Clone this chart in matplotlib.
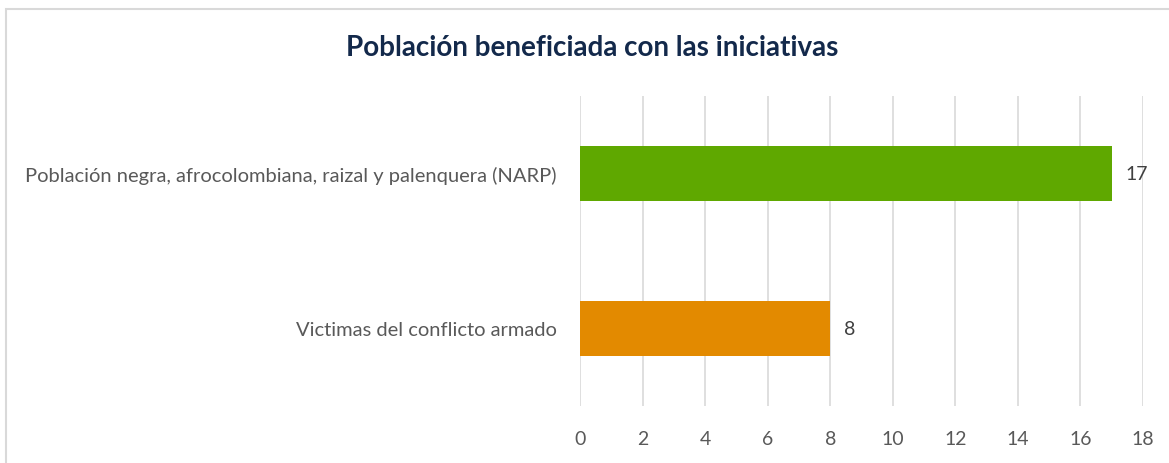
import matplotlib.pyplot as plt
from matplotlib.patches import Rectangle

categories = ["Victimas del conflicto armado",
              "Población negra, afrocolombiana, raizal y palenquera (NARP)"]
values = [8, 17]
bar_colors = ["#E38A00", "#5FA800"]
ticks = list(range(0, 20, 2))
title = "Población beneficiada con las iniciativas"

plt.rcParams["font.family"] = ["Lato", "DejaVu Sans"]

fig = plt.figure(figsize=(11.69, 4.64), dpi=100)
ax = fig.add_axes([580/1169, 1 - 407/464, (1143-580)/1169, (407-97)/464])

ax.barh(range(len(categories)), values, height=0.355, color=bar_colors, zorder=3)
for i, v in enumerate(values):
    ax.annotate(str(v), (v, i), xytext=(10, 0), textcoords="offset points",
                va="center", ha="left", fontsize=14, color="#404040")

ax.set_xlim(0, 18)
ax.set_ylim(-0.5, len(categories) - 0.5)
ax.set_xticks(ticks)
ax.set_yticks(range(len(categories)))
ax.set_yticklabels(categories)
ax.tick_params(axis="x", length=0, pad=17, labelsize=14, labelcolor="#595959")
ax.tick_params(axis="y", length=0, pad=17, labelsize=14.5, labelcolor="#595959")
ax.grid(axis="x", color="#D9D9D9", linewidth=1.2, zorder=0)
for s in ax.spines.values():
    s.set_visible(False)

fig.text(592/1169, 1 - 48/464, title, ha="center", va="center", fontsize=20,
         fontweight="bold", color="#13294B")

fig.patches.append(Rectangle((6/1169, -0.1), 1.2, 1 - 10/464 + 0.1,
                             transform=fig.transFigure, fill=False,
                             edgecolor="#D9D9D9", linewidth=1.5))

fig.savefig("out.png", dpi=100)
